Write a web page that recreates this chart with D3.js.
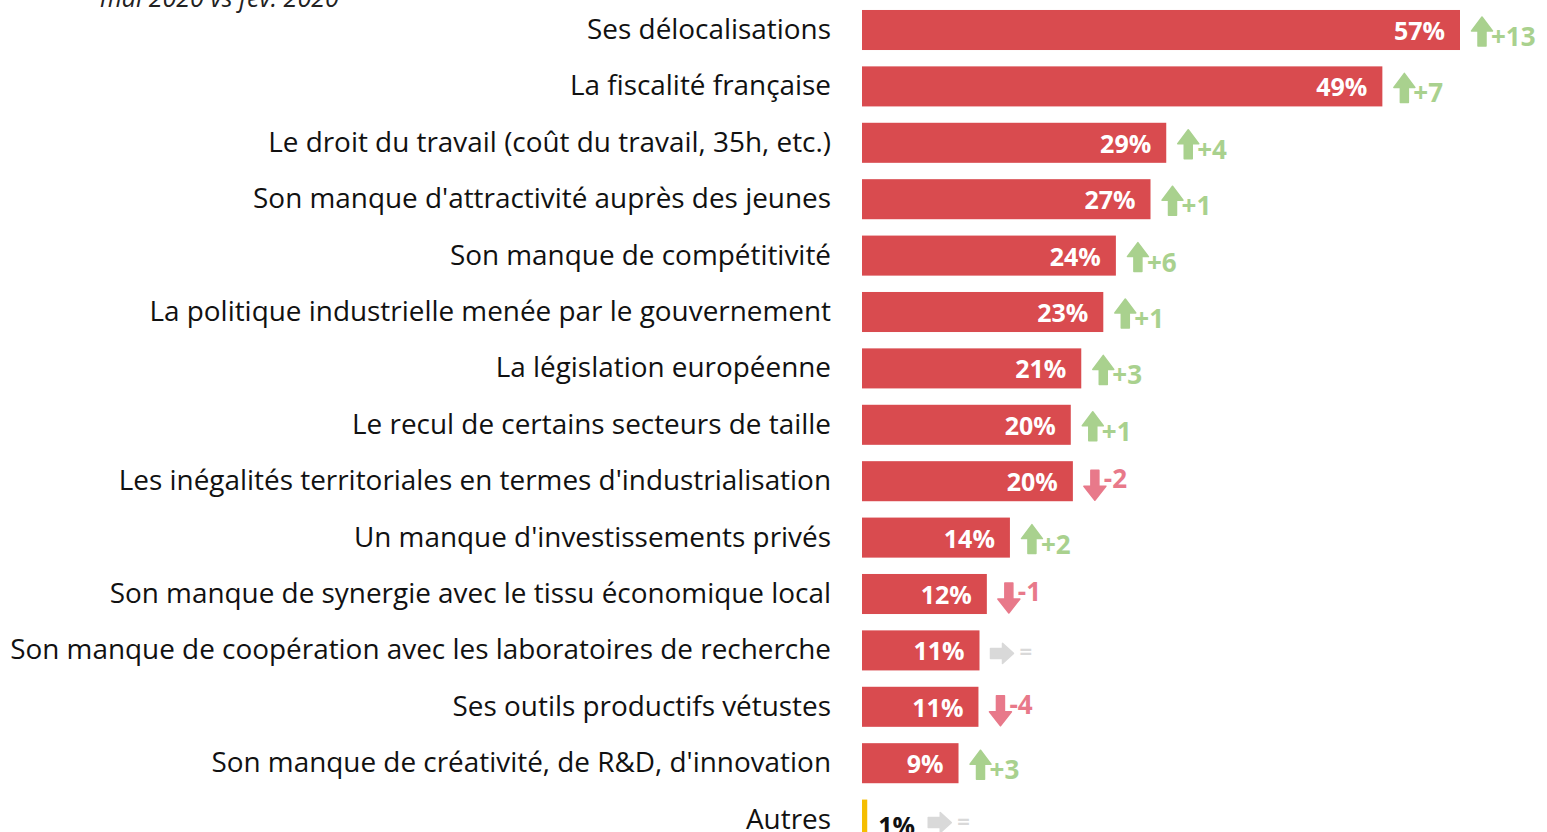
<!DOCTYPE html>
<html>
<head>
<meta charset="utf-8">
<script src="https://cdnjs.cloudflare.com/ajax/libs/d3/7.8.5/d3.min.js"></script>
<style>
  body { margin: 0; background: #fff; overflow: hidden; }
  svg { font-family: "Open Sans", sans-serif; }
</style>
</head>
<body>
<svg id="chart"></svg>
<script>
// values
let categories = [
	"Ses délocalisations",
	"La fiscalité française",
	"Le droit du travail (coût du travail, 35h, etc.)",
	"Son manque d'attractivité auprès des jeunes",
	"Son manque de compétitivité",
	"La politique industrielle menée par le gouvernement",
	"La législation européenne",
	"Le recul de certains secteurs de taille",
	"Les inégalités territoriales en termes d'industrialisation",
	"Un manque d'investissements privés",
	"Son manque de synergie avec le tissu économique local",
	"Son manque de coopération avec les laboratoires de recherche",
	"Ses outils productifs vétustes",
	"Son manque de créativité, de R&D, d'innovation",
	"Autres"
];
// bar lengths as drawn (unrounded)
let values = [57.0, 49.6, 29.0, 27.5, 24.2, 23.0, 20.9, 19.9, 20.1, 14.1, 11.9, 11.2, 11.1, 9.2, 0.5];
let valueLabels = ["57%", "49%", "29%", "27%", "24%", "23%", "21%", "20%", "20%", "14%", "12%", "11%", "11%", "9%", "1%"];
let deltas = [13, 7, 4, 1, 6, 1, 3, 1, -2, 2, -1, 0, -4, 3, 0];
let subtitle = "mai 2020 vs fév. 2020";

let w = 1547;
let h = 832;

let chart = d3.select('#chart')
	.attr('width', w)
	.attr('height', h);

let rows = categories.map((c, i) => ({
	cat: c, value: values[i], label: valueLabels[i], delta: deltas[i], other: c === "Autres"
}));

let xScale = d3.scaleLinear()
	.domain([0, 57])
	.range([862, 1460]);

let yScale = d3.scaleBand()
	.domain(categories)
	.range([1.8, 1.8 + 15 * 56.4])
	.paddingInner(0.29)
	.paddingOuter(0.145);

let bh = yScale.bandwidth();

// subtitle, cut by the top edge
chart.append('text')
	.attr('x', 100)
	.attr('y', 7)
	.style('font-style', 'italic')
	.style('font-size', '25px')
	.attr('fill', '#222')
	.text(subtitle);

// category labels
chart.selectAll('.cat')
	.data(rows)
	.enter()
	.append('text')
	.attr('class', 'cat')
	.attr('x', 831)
	.attr('y', d => yScale(d.cat) + bh / 2 + 9)
	.attr('text-anchor', 'end')
	.style('font-size', '27.9px')
	.attr('fill', '#111')
	.text(d => d.cat);

// bars
chart.selectAll('.bar')
	.data(rows)
	.enter()
	.append('rect')
	.attr('class', 'bar')
	.attr('x', xScale(0))
	.attr('y', d => yScale(d.cat))
	.attr('width', d => xScale(d.value) - xScale(0))
	.attr('height', bh)
	.attr('fill', d => d.other ? '#F5BE00' : '#D94B4F');

// value labels
chart.selectAll('.val')
	.data(rows)
	.enter()
	.append('text')
	.attr('class', 'val')
	.attr('x', d => d.other ? xScale(d.value) + 11 : xScale(d.value) - 15)
	.attr('y', d => yScale(d.cat) + bh / 2 + 10 + (d.other ? 5 : 0))
	.attr('text-anchor', d => d.other ? 'start' : 'end')
	.style('font-size', '25px')
	.style('font-weight', 'bold')
	.attr('fill', d => d.other ? '#111' : '#fff')
	.text(d => d.label);

// change markers
let green = '#A9D18E', red = '#E8798A', grey = '#D9D9D9';
let upArrow = "M0,-13 L10.5,1 L4,1 L4,16 L-4,16 L-4,1 L-10.5,1 Z";
let downArrow = "M0,19 L11,5 L4,5 L4,-11 L-4,-11 L-4,5 L-11,5 Z";
let rightArrow = "M12,3 L1,-7 L1,-2 L-11,-2 L-11,8 L1,8 L1,13 Z";

let marks = chart.selectAll('.delta')
	.data(rows)
	.enter()
	.append('g')
	.attr('class', 'delta')
	.attr('transform', d => {
		let x0 = d.other ? xScale(d.value) + 72 : xScale(d.value) + 22;
		let yc = yScale(d.cat) + bh / 2;
		return `translate(${x0},${yc})`;
	});

marks.append('path')
	.attr('d', d => d.delta > 0 ? upArrow : d.delta < 0 ? downArrow : rightArrow)
	.attr('fill', d => d.delta > 0 ? green : d.delta < 0 ? red : grey)
	.attr('stroke', d => d.delta > 0 ? green : d.delta < 0 ? red : grey)
	.attr('stroke-width', 1.5)
	.attr('stroke-linejoin', 'round');

marks.append('text')
	.attr('x', d => d.delta === 0 ? 18 : 9)
	.attr('y', d => d.delta > 0 ? 16 : d.delta < 0 ? 7 : 9)
	.style('font-size', d => d.delta === 0 ? '22px' : '26px')
	.style('font-weight', 'bold')
	.attr('fill', d => d.delta > 0 ? green : d.delta < 0 ? red : grey)
	.text(d => d.delta > 0 ? "+" + d.delta : d.delta < 0 ? "-" + Math.abs(d.delta) : "=");
</script>
</body>
</html>
